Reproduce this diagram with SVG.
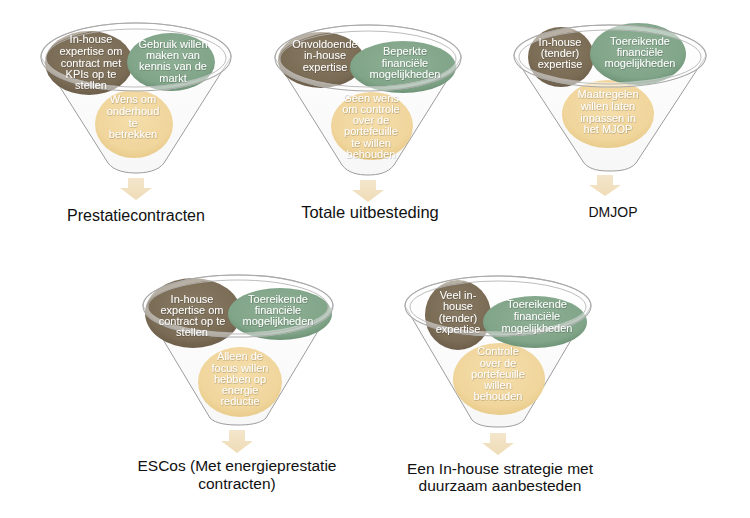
<svg xmlns="http://www.w3.org/2000/svg" width="750" height="518" viewBox="0 0 750 518">
<defs>
<radialGradient id="gBrown" cx="50%" cy="40%" r="60%"><stop offset="0" stop-color="#877a63"/><stop offset="0.8" stop-color="#7a6b55"/><stop offset="1" stop-color="#6c5e4a"/></radialGradient>
<radialGradient id="gGreen" cx="50%" cy="40%" r="60%"><stop offset="0" stop-color="#8fb096"/><stop offset="0.8" stop-color="#81a589"/><stop offset="1" stop-color="#6e9377"/></radialGradient>
<radialGradient id="gYellow" cx="50%" cy="40%" r="60%"><stop offset="0" stop-color="#f5deab"/><stop offset="0.8" stop-color="#f0d59c"/><stop offset="1" stop-color="#e9cc8c"/></radialGradient>
<linearGradient id="gArrow" x1="0" y1="0" x2="0" y2="1"><stop offset="0" stop-color="#f4e6cc"/><stop offset="1" stop-color="#efdcb6"/></linearGradient>
<linearGradient id="gBody" x1="0" y1="0" x2="0" y2="1"><stop offset="0" stop-color="#ffffff"/><stop offset="1" stop-color="#f7f7f7"/></linearGradient>
<filter id="ts" x="-10%" y="-30%" width="120%" height="160%"><feDropShadow dx="0.4" dy="0.6" stdDeviation="0.5" flood-color="#000000" flood-opacity="0.35"/></filter>
</defs>
<style>
.body{fill:url(#gBody);stroke:#9c9c9c;stroke-width:1}
.rimO{fill:none;stroke:#a8a8a8;stroke-width:1.1}
.rimB{fill:none;stroke:#ffffff;stroke-opacity:0.45;stroke-width:5}
.rimI{fill:none;stroke:#b4b4b4;stroke-width:0.9}
.brown{fill:url(#gBrown)}
.green{fill:url(#gGreen)}
.yellow{fill:url(#gYellow)}
.arrow{fill:url(#gArrow)}
.t{font-family:"Liberation Sans",Arial,sans-serif;font-size:11px;fill:#ffffff;text-anchor:middle;filter:url(#ts)}
.lbl{font-family:"Liberation Sans",Arial,sans-serif;fill:#111111;text-anchor:middle}
</style>
<rect width="750" height="518" fill="#ffffff"/>

<g id="funnel1">
<path class="body" d="M41,57 A95,34 0 0 1 231,57 L164,163 C158,171 146,173 136,173 C126,173 114,171 108,163 Z"/>
<ellipse class="yellow" cx="134" cy="124" rx="39" ry="34"/>
<ellipse class="brown" cx="89" cy="63" rx="44" ry="32"/>
<ellipse class="green" cx="171" cy="62" rx="44" ry="29"/>
<ellipse class="rimB" cx="136" cy="57" rx="93" ry="32"/>
<ellipse class="rimO" cx="136" cy="57" rx="95" ry="34"/>
<ellipse class="rimI" cx="136" cy="58" rx="90" ry="29"/>
<text class="t" x="91" y="43">In-house</text>
<text class="t" x="91" y="55">expertise om</text>
<text class="t" x="91" y="67">contract met</text>
<text class="t" x="91" y="78">KPIs op te</text>
<text class="t" x="91" y="89">stellen</text>
<text class="t" x="173" y="48">Gebruik willen</text>
<text class="t" x="173" y="59">maken van</text>
<text class="t" x="173" y="70">kennis van de</text>
<text class="t" x="173" y="82">markt</text>
<text class="t" x="133" y="103">Wens om</text>
<text class="t" x="133" y="115">onderhoud</text>
<text class="t" x="133" y="127">te</text>
<text class="t" x="133" y="138">betrekken</text>
</g>

<g id="funnel2">
<path class="body" d="M275,58 A93,33 0 0 1 461,58 L394,165 C388,173 378,175 368,175 C358,175 348,173 342,165 Z"/>
<ellipse class="yellow" cx="372" cy="126" rx="41" ry="34"/>
<ellipse class="brown" cx="321" cy="60" rx="43" ry="28"/>
<ellipse class="green" cx="403" cy="67" rx="53" ry="26"/>
<ellipse class="rimB" cx="368" cy="58" rx="91" ry="31"/>
<ellipse class="rimO" cx="368" cy="58" rx="93" ry="33"/>
<ellipse class="rimI" cx="368" cy="59" rx="88" ry="28"/>
<text class="t" x="325" y="48">Onvoldoende</text>
<text class="t" x="325" y="59">in-house</text>
<text class="t" x="325" y="71">expertise</text>
<text class="t" x="405" y="55">Beperkte</text>
<text class="t" x="405" y="67">financiële</text>
<text class="t" x="405" y="78">mogelijkheden</text>
<text class="t" x="371" y="102">Geen wens</text>
<text class="t" x="371" y="113">om controle</text>
<text class="t" x="371" y="124">over de</text>
<text class="t" x="371" y="135">portefeuille</text>
<text class="t" x="371" y="147">te willen</text>
<text class="t" x="371" y="158">behouden</text>
</g>

<g id="funnel3">
<path class="body" d="M514,56 A96,31 0 0 1 706,56 L636,163 C630,170 620,171 610,171 C600,171 590,170 584,163 Z"/>
<ellipse class="yellow" cx="608" cy="114" rx="46" ry="34"/>
<ellipse class="brown" cx="561" cy="57" rx="33" ry="30"/>
<ellipse class="green" cx="638" cy="54" rx="48" ry="31"/>
<ellipse class="rimB" cx="610" cy="56" rx="94" ry="29"/>
<ellipse class="rimO" cx="610" cy="56" rx="96" ry="31"/>
<ellipse class="rimI" cx="610" cy="57" rx="91" ry="27"/>
<text class="t" x="560" y="46">In-house</text>
<text class="t" x="560" y="57">(tender)</text>
<text class="t" x="560" y="68">expertise</text>
<text class="t" x="640" y="45">Toereikende</text>
<text class="t" x="640" y="56">financiële</text>
<text class="t" x="640" y="67">mogelijkheden</text>
<text class="t" x="608" y="98">Maatregelen</text>
<text class="t" x="608" y="110">willen laten</text>
<text class="t" x="608" y="122">inpassen in</text>
<text class="t" x="608" y="133">het MJOP</text>
</g>

<g id="funnel4">
<path class="body" d="M143,306 A95,31 0 0 1 333,306 L266,418 C260,424 248,425 238,425 C228,425 216,424 210,418 Z"/>
<ellipse class="yellow" cx="240" cy="382" rx="42" ry="35"/>
<ellipse class="brown" cx="193" cy="313" rx="48" ry="35"/>
<ellipse class="green" cx="280" cy="314" rx="52" ry="26"/>
<ellipse class="rimB" cx="238" cy="306" rx="93" ry="29"/>
<ellipse class="rimO" cx="238" cy="306" rx="95" ry="31"/>
<ellipse class="rimI" cx="238" cy="307" rx="90" ry="27"/>
<text class="t" x="192" y="303">In-house</text>
<text class="t" x="192" y="314">expertise om</text>
<text class="t" x="192" y="325">contract op te</text>
<text class="t" x="192" y="336">stellen</text>
<text class="t" x="278" y="303">Toereikende</text>
<text class="t" x="278" y="314">financiële</text>
<text class="t" x="278" y="325">mogelijkheden</text>
<text class="t" x="240" y="360">Alleen de</text>
<text class="t" x="240" y="372">focus willen</text>
<text class="t" x="240" y="383">hebben op</text>
<text class="t" x="240" y="394">energie</text>
<text class="t" x="240" y="405">reductie</text>
</g>

<g id="funnel5">
<path class="body" d="M405,306 A93,30 0 0 1 591,306 L524,420 C518,426 508,427 498,427 C488,427 478,426 472,420 Z"/>
<ellipse class="yellow" cx="499" cy="379" rx="46" ry="36"/>
<ellipse class="brown" cx="458" cy="315" rx="33" ry="35"/>
<ellipse class="green" cx="535" cy="322" rx="52" ry="26"/>
<ellipse class="rimB" cx="498" cy="306" rx="91" ry="28"/>
<ellipse class="rimO" cx="498" cy="306" rx="93" ry="30"/>
<ellipse class="rimI" cx="498" cy="307" rx="88" ry="26"/>
<text class="t" x="458" y="299">Veel in-</text>
<text class="t" x="458" y="310">house</text>
<text class="t" x="458" y="322">(tender)</text>
<text class="t" x="458" y="333">expertise</text>
<text class="t" x="537" y="308">Toereikende</text>
<text class="t" x="537" y="320">financiële</text>
<text class="t" x="537" y="332">mogelijkheden</text>
<text class="t" x="498" y="355">Controle</text>
<text class="t" x="498" y="367">over de</text>
<text class="t" x="498" y="378">portefeuille</text>
<text class="t" x="498" y="389">willen</text>
<text class="t" x="498" y="400">behouden</text>
</g>

<g id="connectors">
<path class="arrow" d="M128,178 H144 V188 H152 L136,200 L120,188 H128 Z"/>
<path class="arrow" d="M360,180 H376 V190 H384 L368,202 L352,190 H360 Z"/>
<path class="arrow" d="M597,175 H613 V185 H621 L605,196 L589,185 H597 Z"/>
<path class="arrow" d="M229,430 H245 V441 H253 L237,453 L221,441 H229 Z"/>
<path class="arrow" d="M490,433 H506 V443 H514 L498,455 L482,443 H490 Z"/>
</g>

<g id="labels">
<text class="lbl" x="136" y="221" font-size="16">Prestatiecontracten</text>
<text class="lbl" x="370" y="218" font-size="16.5">Totale uitbesteding</text>
<text class="lbl" x="613" y="217" font-size="14">DMJOP</text>
<text class="lbl" x="237" y="471" font-size="15.5">ESCos (Met energieprestatie</text>
<text class="lbl" x="237" y="489" font-size="15.5">contracten)</text>
<text class="lbl" x="500" y="474" font-size="15.5">Een In-house strategie met</text>
<text class="lbl" x="500" y="491" font-size="15.5">duurzaam aanbesteden</text>
</g>
</svg>
